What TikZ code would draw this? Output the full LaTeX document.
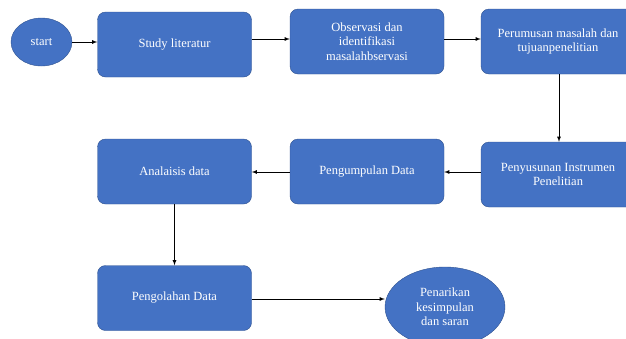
\documentclass[tikz,border=0pt]{standalone}
\usepackage{fontspec}
\setmainfont{Liberation Serif}
\usetikzlibrary{arrows}
\usetikzlibrary{shapes.geometric}
\definecolor{boxblue}{HTML}{4472C4}
\definecolor{boxline}{HTML}{2F528F}
\tikzset{
	langkah/.style={draw=boxline,fill=boxblue,rounded corners=8pt,text=white,align=center,minimum width=154pt,minimum height=65pt,inner sep=2pt,font=\fontsize{12.5}{14.5}\selectfont},
	bulat/.style={ellipse,draw=boxline,fill=boxblue,text=white,align=center,inner sep=0pt,font=\fontsize{12.5}{14.5}\selectfont},
	panah/.style={-latex,thick}
}

\begin{document}
\begin{tikzpicture}[x=1pt,y=-1pt]
		\useasboundingbox (0,0) rectangle (626,338);
		\node[bulat,minimum width=61pt,minimum height=48pt] (start) at (41.5,42) {start};
		\node[langkah] (study) at (174.5,44.5) {Study literatur};
		\node[langkah] (obs) at (367,41.5) {Observasi dan\\identifikasi\\masalahbservasi};
		\node[langkah] (rumus) at (558,41.5) {Perumusan masalah dan\\tujuanpenelitian};
		\node[langkah] (susun) at (558,174.5) {Penyusunan Instrumen\\Penelitian};
		\node[langkah] (kumpul) at (367,171.5) {Pengumpulan Data};
		\node[langkah] (analisis) at (174.5,171.5) {Analaisis data};
		\node[langkah] (olah) at (174.5,298) {Pengolahan Data};
		\node[bulat,minimum width=120pt,minimum height=80pt] (tarik) at (445,307) {Penarikan\\kesimpulan\\dan saran};
		\draw[panah] (start.east) -- (start.east -| study.west);
		\draw[panah] (study.east |- 0,39) -- (obs.west |- 0,39);
		\draw[panah] (obs.east |- 0,39) -- (rumus.west |- 0,39);
		\draw[panah] (rumus.south -| 559,0) -- (susun.north -| 559,0);
		\draw[panah] (susun.west |- 0,172) -- (kumpul.east |- 0,172);
		\draw[panah] (kumpul.west |- 0,172) -- (analisis.east |- 0,172);
		\draw[panah] (analisis.south) -- (olah.north);
		\draw[panah] (olah.east |- 0,299) -- (tarik.west |- 0,299);
	\end{tikzpicture}
\end{document}
